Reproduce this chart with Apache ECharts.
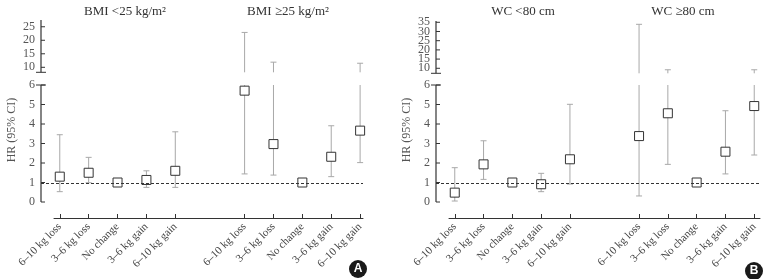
<!DOCTYPE html>
<html>
<head>
<meta charset="utf-8">
<title>HR by weight change</title>
<script src="https://cdn.jsdelivr.net/npm/echarts@6/dist/echarts.min.js"></script>
<style>
    html, body {margin:0; padding:0; background:#fff; overflow:hidden;}
</style>
</head>
<body>
<div id="main" style="width:763px;height:279px;"></div>
<script type="text/javascript">

    // categories (same for both groups of each panel)
    var categories = ['6\u201310 kg loss', '3\u20136 kg loss', 'No change', '3\u20136 kg gain', '6\u201310 kg gain'];

    // panel A: BMI <25 / BMI >=25
    var bmiLowHR = [1.30, 1.50, 1.00, 1.13, 1.60];
    var bmiLowLo = [0.53, 0.99, 1.00, 0.75, 0.75];
    var bmiLowHi = [3.45, 2.29, 1.00, 1.60, 3.60];

    var bmiHighHR = [5.71, 2.97, 1.00, 2.32, 3.66];
    var bmiHighLo = [1.44, 1.38, 1.00, 1.30, 2.02];
    var bmiHighHi = [22.9, 11.9, 1.00, 3.91, 11.5];

    // panel B: WC <80 / WC >=80
    var wcLowHR = [0.48, 1.93, 1.00, 0.91, 2.19];
    var wcLowLo = [0.05, 1.16, 1.00, 0.53, 0.92];
    var wcLowHi = [1.76, 3.14, 1.00, 1.47, 5.01];

    var wcHighHR = [3.38, 4.55, 1.00, 2.58, 4.92];
    var wcHighLo = [0.31, 1.93, 1.00, 1.44, 2.41];
    var wcHighHi = [33.9, 9.2, 1.00, 4.68, 9.2];

    var upperTicksA = [10, 15, 20, 25];
    var upperTicksB = [10, 15, 20, 25, 30, 35];
    var lowerTicks = [0, 1, 2, 3, 4, 5, 6];

    var GAP = 2.4;           // empty space between the two groups (in category steps)
    var LOW_MAX = 6;
    var Y_OFF = 13;          // y axis drawn left of the grid
    var X_OFF = 16;          // x axis drawn below the grid
    var serif = 'Liberation Serif';
    var axisColor = '#333';

    var xPos = [0, 1, 2, 3, 4].concat([0, 1, 2, 3, 4].map(function (v) { return v + 4 + GAP; }));
    var xLabels = categories.concat(categories);

    function labelFor(v) {
        for (var k = 0; k < xPos.length; k++) {
            if (Math.abs(xPos[k] - v) < 1e-6) return xLabels[k];
        }
        return '';
    }

    function pack(hr, lo, hi) {
        var pts = [], bars = [];
        for (var k = 0; k < hr.length; k++) {
            pts.push([xPos[k], hr[k]]);
            bars.push([xPos[k], lo[k], hi[k]]);
        }
        return {pts: pts, bars: bars};
    }

    var A = pack(bmiLowHR.concat(bmiHighHR), bmiLowLo.concat(bmiHighLo), bmiLowHi.concat(bmiHighHi));
    var B = pack(wcLowHR.concat(wcHighHR), wcLowLo.concat(wcHighLo), wcLowHi.concat(wcHighHi));

    var barColor = '#a8a8a8';

    function seg(x1, y1, x2, y2, color, dash, w) {
        var st = {stroke: color, lineWidth: w || 1};
        if (dash) st.lineDash = dash;
        return {type: 'line', shape: {x1: x1, y1: y1, x2: x2, y2: y2}, style: st};
    }
    // vertical axis line as a filled thin rect
    function vbar(x, y1, y2) {
        return {type: 'rect', shape: {x: x - 0.6, y: y1, width: 1.2, height: y2 - y1},
                style: {fill: axisColor}};
    }
    function cap(p, w) {
        return seg(p[0] - w, p[1], p[0] + w, p[1], barColor);
    }

    function lowerBars(params, api) {
        var x = api.value(0), lo = api.value(1), hi = api.value(2);
        if (hi - lo < 1e-6) return;
        var top = Math.min(hi, LOW_MAX);
        var p1 = api.coord([x, lo]), p2 = api.coord([x, top]);
        var kids = [seg(p1[0], p1[1], p2[0], p2[1], barColor), cap(p1, 3)];
        if (hi <= LOW_MAX) kids.push(cap(p2, 3));
        return {type: 'group', children: kids};
    }

    function makeUpperBars(minV) {
        return function (params, api) {
            var x = api.value(0), lo = api.value(1), hi = api.value(2);
            if (hi <= minV) return;
            var p1 = api.coord([x, Math.max(lo, minV)]), p2 = api.coord([x, hi]);
            return {type: 'group', children: [seg(p1[0], p1[1], p2[0], p2[1], barColor), cap(p2, 3)]};
        };
    }

    // y axis line, ticks, reference line at HR=1 and the break mark (lower part)
    function lowerDecor(params, api) {
        var cs = params.coordSys;
        var ax = cs.x - Y_OFF;
        var y1 = Math.round(api.coord([0, 1])[1]) + 0.5;
        var kids = [
            vbar(ax, cs.y, cs.y + cs.height),
            seg(ax, y1, cs.x + cs.width, y1, axisColor, [3, 2]),
            seg(ax - 5, cs.y, ax + 5, cs.y, axisColor)
        ];
        lowerTicks.forEach(function (t) {
            var y = api.coord([0, t])[1];
            kids.push(seg(ax, y, ax + 4, y, axisColor));
        });
        return {type: 'group', children: kids};
    }
    // y axis line, ticks, tick labels and break mark (upper part)
    function makeUpperDecor(ticks) {
        return function (params, api) {
            var cs = params.coordSys;
            var ax = cs.x - Y_OFF;
            var yb = cs.y + cs.height;
            var kids = [vbar(ax, cs.y, yb), seg(ax - 5, yb, ax + 5, yb, axisColor)];
            ticks.forEach(function (t) {
                var y = api.coord([0, t])[1];
                kids.push(seg(ax, y, ax + 4, y, axisColor));
                kids.push({type: 'text', x: ax - 6, y: y,
                           style: {text: String(t), fill: '#555', font: '12px "Liberation Serif"',
                                   align: 'right', verticalAlign: 'middle'}});
            });
            return {type: 'group', children: kids};
        };
    }

    function yAxisLower(gi) {
        return {type: 'value', gridIndex: gi, min: 0, max: LOW_MAX, interval: 1, offset: Y_OFF,
                axisLine: {show: false, onZero: false},
                axisTick: {show: false},
                axisLabel: {color: '#555', fontFamily: serif, fontSize: 12, margin: 6},
                splitLine: {show: false}};
    }
    function yAxisUpper(gi, minV, maxV) {
        return {type: 'value', gridIndex: gi, min: minV, max: maxV, offset: Y_OFF,
                axisLine: {show: false, onZero: false},
                axisTick: {show: false},
                axisLabel: {show: false},
                splitLine: {show: false}};
    }
    function xAxisLower(gi, maxV) {
        return {type: 'value', gridIndex: gi, min: -0.2, max: maxV, offset: X_OFF,
                axisLine: {show: true, onZero: false, lineStyle: {color: axisColor}},
                axisTick: {show: true, inside: true, length: 4, customValues: xPos, lineStyle: {color: axisColor}},
                axisLabel: {customValues: xPos, rotate: 45, margin: 7, color: '#444',
                            fontFamily: serif, fontSize: 11, formatter: labelFor},
                splitLine: {show: false}};
    }
    function xAxisUpper(gi, maxV) {
        return {type: 'value', gridIndex: gi, min: -0.2, max: maxV, show: false};
    }

    var panels = [
        {left: 54, width: 309, upTop: 20, upH: 52.3, upMin: 8.15, upMax: 27.5, ticks: upperTicksA, xMax: 10.5, data: A},
        {left: 449, width: 311, upTop: 21, upH: 52.3, upMin: 7.28, upMax: 35.7, ticks: upperTicksB, xMax: 10.6, data: B}
    ];

    var grid = [], xAxis = [], yAxis = [], series = [];
    panels.forEach(function (p, n) {
        var gLow = n * 2, gUp = n * 2 + 1;
        grid.push({left: p.left, width: p.width, top: 85, height: 117});
        grid.push({left: p.left, width: p.width, top: p.upTop, height: p.upH});
        xAxis.push(xAxisLower(gLow, p.xMax));
        xAxis.push(xAxisUpper(gUp, p.xMax));
        yAxis.push(yAxisLower(gLow));
        yAxis.push(yAxisUpper(gUp, p.upMin, p.upMax));

        series.push({type: 'custom', xAxisIndex: gLow, yAxisIndex: gLow, renderItem: lowerDecor,
                     data: [[0, 1]], silent: true, clip: false, z: 10});
        series.push({type: 'custom', xAxisIndex: gUp, yAxisIndex: gUp, renderItem: makeUpperDecor(p.ticks),
                     data: [[0, p.upMin]], silent: true, clip: false, z: 10});
        series.push({type: 'custom', xAxisIndex: gLow, yAxisIndex: gLow, renderItem: lowerBars,
                     encode: {x: 0, y: [1, 2]}, data: p.data.bars, z: 2});
        series.push({type: 'custom', xAxisIndex: gUp, yAxisIndex: gUp, renderItem: makeUpperBars(p.upMin),
                     encode: {x: 0, y: [1, 2]}, data: p.data.bars, z: 2});
        series.push({type: 'scatter', xAxisIndex: gLow, yAxisIndex: gLow, symbol: 'rect', symbolSize: 9,
                     itemStyle: {color: '#fff', borderColor: '#333', borderWidth: 1, opacity: 1},
                     data: p.data.pts, z: 3});
    });

    var titleStyle = {fontFamily: serif, fontSize: 13, fontWeight: 'normal', color: '#333'};
    var option = {
        animation: false,
        backgroundColor: '#fff',
        title: [
            {text: 'BMI <25 kg/m\u00b2', left: 120, top: 0, textAlign: 'center', textStyle: titleStyle},
            {text: 'BMI \u226525 kg/m\u00b2', left: 283, top: 0, textAlign: 'center', textStyle: titleStyle},
            {text: 'WC <80 cm', left: 518, top: 0, textAlign: 'center', textStyle: titleStyle},
            {text: 'WC \u226580 cm', left: 678, top: 0, textAlign: 'center', textStyle: titleStyle}
        ],
        grid: grid,
        xAxis: xAxis,
        yAxis: yAxis,
        series: series,
        graphic: [
            {type: 'text', x: 12, y: 130, rotation: Math.PI / 2,
             style: {text: 'HR (95% CI)', fill: '#555', font: '12px "Liberation Serif"', align: 'center', verticalAlign: 'middle'}},
            {type: 'text', x: 407, y: 130, rotation: Math.PI / 2,
             style: {text: 'HR (95% CI)', fill: '#555', font: '12px "Liberation Serif"', align: 'center', verticalAlign: 'middle'}},
            {type: 'circle', shape: {cx: 358, cy: 269, r: 9}, style: {fill: '#1a1a1a'}},
            {type: 'text', x: 358, y: 269, style: {text: 'A', fill: '#fff', font: 'bold 12px "Liberation Sans"', align: 'center', verticalAlign: 'middle'}},
            {type: 'circle', shape: {cx: 754, cy: 271, r: 9}, style: {fill: '#1a1a1a'}},
            {type: 'text', x: 754, y: 271, style: {text: 'B', fill: '#fff', font: 'bold 12px "Liberation Sans"', align: 'center', verticalAlign: 'middle'}}
        ]
    };

    var chart = echarts.init(document.getElementById('main'));
    chart.setOption(option);

</script>
</body>
</html>
